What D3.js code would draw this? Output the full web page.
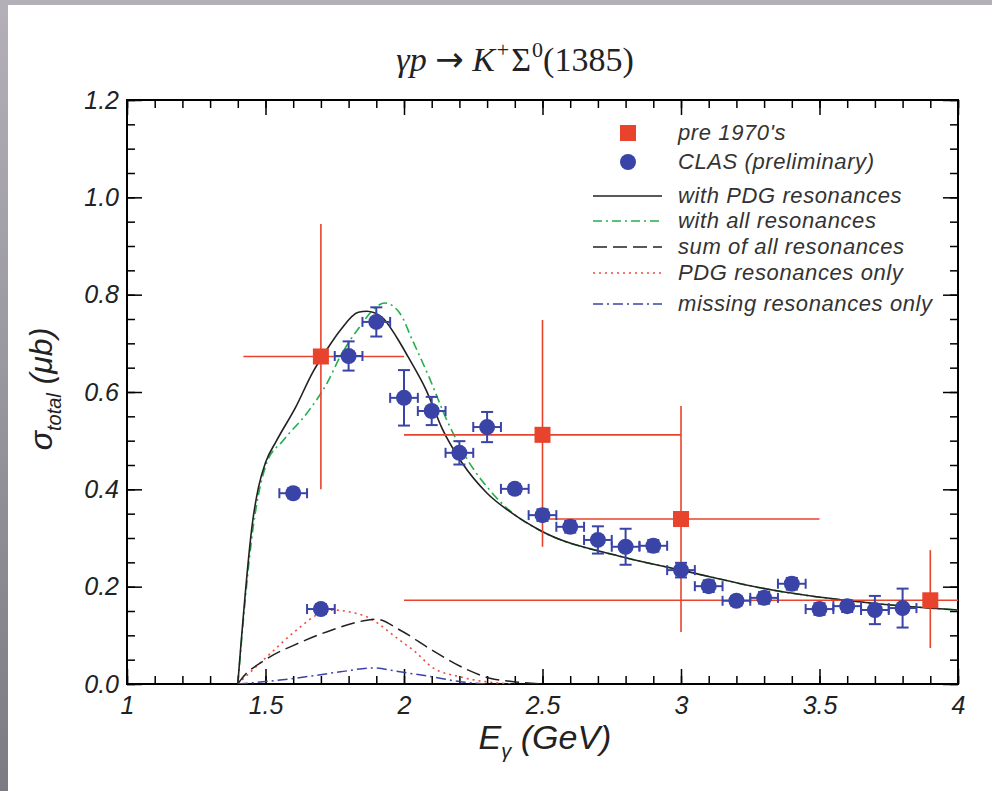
<!DOCTYPE html>
<html>
<head>
<meta charset="utf-8">
<script src="https://cdn.jsdelivr.net/npm/d3@7"></script>
<style>
  body { margin: 0; background: #fff; }
  svg { display: block; }
</style>
</head>
<body>
<svg id="chart"></svg>
<script>
// CLAS (preliminary) points
const clasE     = [1.6, 1.7, 1.8, 1.9, 2.0, 2.1, 2.2, 2.3, 2.4, 2.5, 2.6, 2.7, 2.8, 2.9, 3.0, 3.1, 3.2, 3.3, 3.4, 3.5, 3.6, 3.7, 3.8];
const clasSigma = [0.392, 0.154, 0.674, 0.744, 0.588, 0.561, 0.475, 0.528, 0.401, 0.347, 0.323, 0.296, 0.282, 0.284, 0.234, 0.201, 0.171, 0.177, 0.206, 0.154, 0.160, 0.152, 0.156];
const clasErr   = [0.010, 0.010, 0.030, 0.030, 0.057, 0.029, 0.024, 0.031, 0.010, 0.012, 0.012, 0.028, 0.037, 0.012, 0.015, 0.012, 0.010, 0.012, 0.012, 0.012, 0.012, 0.029, 0.040];
const clasHalfBin = 0.05;

// pre 1970's points
const preE      = [1.7, 2.5, 3.0, 3.9];
const preSigma  = [0.673, 0.512, 0.339, 0.172];
const preELo    = [1.42, 2.0, 2.5, 2.0];
const preEHi    = [2.0, 3.0, 3.5, 4.05];
const preSigLo  = [0.400, 0.282, 0.107, 0.074];
const preSigHi  = [0.945, 0.748, 0.571, 0.275];

// model curves
const pdgE      = [1.4, 1.455, 1.475, 1.50, 1.54, 1.61, 1.67, 1.72, 1.77, 1.835, 1.866, 1.92, 1.975, 2.015, 2.08, 2.14, 2.21, 2.30, 2.39, 2.49, 2.79, 3.0, 3.33, 3.69, 4.0];
const pdgSigma  = [0, 0.340, 0.405, 0.455, 0.500, 0.570, 0.640, 0.686, 0.727, 0.764, 0.766, 0.754, 0.711, 0.672, 0.604, 0.522, 0.454, 0.392, 0.351, 0.316, 0.261, 0.234, 0.193, 0.166, 0.152];

const allE      = [1.4, 1.455, 1.505, 1.563, 1.65, 1.722, 1.769, 1.84, 1.90, 1.93, 1.985, 2.03, 2.09, 2.155, 2.23, 2.31, 2.39, 2.49, 2.79, 3.0, 3.33, 3.69, 4.0];
const allSigma  = [0, 0.320, 0.455, 0.500, 0.557, 0.618, 0.672, 0.734, 0.775, 0.783, 0.762, 0.707, 0.631, 0.542, 0.460, 0.398, 0.352, 0.316, 0.261, 0.234, 0.193, 0.166, 0.152];

const sumE      = [1.4, 1.41, 1.5, 1.62, 1.74, 1.866, 1.90, 1.985, 2.10, 2.23, 2.31, 2.39, 2.5];
const sumSigma  = [0, 0.008, 0.050, 0.084, 0.111, 0.131, 0.133, 0.111, 0.070, 0.029, 0.012, 0.005, 0];

const pdgOnlyE     = [1.4, 1.505, 1.625, 1.685, 1.745, 1.805, 1.865, 1.985, 2.045, 2.10, 2.20, 2.29, 2.4];
const pdgOnlySigma = [0, 0.056, 0.117, 0.142, 0.152, 0.148, 0.138, 0.090, 0.064, 0.035, 0.015, 0.005, 0];

const missE     = [1.4, 1.5, 1.61, 1.77, 1.89, 1.985, 2.1, 2.2, 2.3];
const missSigma = [0, 0.005, 0.012, 0.025, 0.033, 0.025, 0.015, 0.005, 0];

// axis ticks
const xTicks      = [1, 1.5, 2, 2.5, 3, 3.5, 4];
const xTickLabels = ["1", "1.5", "2", "2.5", "3", "3.5", "4"];
const yTicks      = [0, 0.2, 0.4, 0.6, 0.8, 1.0, 1.2];
const yTickLabels = ["0.0", "0.2", "0.4", "0.6", "0.8", "1.0", "1.2"];

const legendLabels = ["pre 1970's", "CLAS (preliminary)", "with PDG resonances", "with all resonances",
                      "sum of all resonances", "PDG resonances only", "missing resonances only"];

const W = 992, H = 791;
const pLeft = 127, pRight = 958, pTop = 100, pBottom = 684;

const RED = "#e8432d", BLUE = "#3a44a6", GREEN = "#22b04c";
const sans = "'Liberation Sans', Arial, sans-serif";
const tickFont = `italic 25px ${sans}`;

const svg = d3.select("#chart").attr("width", W).attr("height", H);

// slide-like gray frame
const defs = svg.append("defs");
const grad = defs.append("linearGradient").attr("id", "bg").attr("x1", 0).attr("y1", 0).attr("x2", 0).attr("y2", 1);
grad.append("stop").attr("offset", "0%").attr("stop-color", "#b3b1b7");
grad.append("stop").attr("offset", "100%").attr("stop-color", "#7d7b82");
svg.append("rect").attr("width", W).attr("height", H).attr("fill", "url(#bg)");
svg.append("rect").attr("x", 8).attr("y", 5).attr("width", W - 8).attr("height", H - 5).attr("fill", "#fff");

defs.append("clipPath").attr("id", "plot")
  .append("rect").attr("x", pLeft).attr("y", pTop).attr("width", pRight - pLeft).attr("height", pBottom - pTop);

const x = d3.scaleLinear().domain([1, 4]).range([pLeft, pRight]);
const y = d3.scaleLinear().domain([0, 1.2]).range([pBottom, pTop]);

// axes: major + minor, ticks pointing inward
const xMinor = d3.range(10, 41).map(d => d / 10);
const yMinor = d3.range(0, 25).map(d => d * 0.05);

function styleAxis(g) {
  g.select(".domain").remove();
  g.selectAll("line").attr("stroke", "#000").attr("stroke-width", 1.5);
  g.selectAll("text").style("font", tickFont).attr("fill", "#222");
}

svg.append("g").attr("transform", `translate(0,${pBottom})`)
  .call(d3.axisBottom(x).tickValues(xMinor).tickSize(-8).tickFormat(""))
  .call(styleAxis);
svg.append("g").attr("transform", `translate(0,${pBottom})`)
  .call(d3.axisBottom(x).tickValues(xTicks).tickSize(-15).tickPadding(12)
    .tickFormat((d, i) => xTickLabels[i]))
  .call(styleAxis);
svg.append("g").attr("transform", `translate(0,${pTop})`)
  .call(d3.axisTop(x).tickValues(xMinor).tickSize(-8).tickFormat(""))
  .call(styleAxis);
svg.append("g").attr("transform", `translate(0,${pTop})`)
  .call(d3.axisTop(x).tickValues(xTicks).tickSize(-15).tickFormat(""))
  .call(styleAxis);

svg.append("g").attr("transform", `translate(${pLeft},0)`)
  .call(d3.axisLeft(y).tickValues(yMinor).tickSize(-8).tickFormat(""))
  .call(styleAxis);
svg.append("g").attr("transform", `translate(${pLeft},0)`)
  .call(d3.axisLeft(y).tickValues(yTicks).tickSize(-15).tickPadding(8)
    .tickFormat((d, i) => yTickLabels[i]))
  .call(styleAxis);
svg.append("g").attr("transform", `translate(${pRight},0)`)
  .call(d3.axisRight(y).tickValues(yMinor).tickSize(-8).tickFormat(""))
  .call(styleAxis);
svg.append("g").attr("transform", `translate(${pRight},0)`)
  .call(d3.axisRight(y).tickValues(yTicks).tickSize(-15).tickFormat(""))
  .call(styleAxis);

svg.append("rect")
  .attr("x", pLeft).attr("y", pTop).attr("width", pRight - pLeft).attr("height", pBottom - pTop)
  .attr("fill", "none").attr("stroke", "#000").attr("stroke-width", 2);

// curves
const line = d3.line().x(d => x(d[0])).y(d => y(d[1])).curve(d3.curveMonotoneX);
const curves = [
  { e: missE,    s: missSigma,    color: BLUE,   dash: "10 4 2 4", w: 1.5 },
  { e: pdgOnlyE, s: pdgOnlySigma, color: "#f04a3c", dash: "2 4",  w: 1.6 },
  { e: sumE,     s: sumSigma,     color: "#222", dash: "14 6",     w: 1.5 },
  { e: allE,     s: allSigma,     color: GREEN,  dash: "9 4 2 4",  w: 1.6 },
  { e: pdgE,     s: pdgSigma,     color: "#222", dash: null,       w: 1.6 }
];
const curveG = svg.append("g").attr("clip-path", "url(#plot)");
curveG.selectAll("path").data(curves).join("path")
  .attr("d", c => line(c.e.map((e, i) => [e, c.s[i]])))
  .attr("fill", "none")
  .attr("stroke", c => c.color)
  .attr("stroke-width", c => c.w)
  .attr("stroke-dasharray", c => c.dash);

// pre 1970's data
const pre = preE.map((e, i) => ({ e, s: preSigma[i], elo: preELo[i], ehi: preEHi[i], slo: preSigLo[i], shi: preSigHi[i] }));
const preG = svg.append("g").attr("clip-path", "url(#plot)");
preG.selectAll("line.h").data(pre).join("line").attr("class", "h")
  .attr("x1", d => x(d.elo)).attr("x2", d => x(d.ehi))
  .attr("y1", d => y(d.s)).attr("y2", d => y(d.s))
  .attr("stroke", RED).attr("stroke-width", 1.6);
preG.selectAll("line.v").data(pre).join("line").attr("class", "v")
  .attr("x1", d => x(d.e)).attr("x2", d => x(d.e))
  .attr("y1", d => y(d.slo)).attr("y2", d => y(d.shi))
  .attr("stroke", RED).attr("stroke-width", 1.6);
preG.selectAll("rect").data(pre).join("rect")
  .attr("x", d => x(d.e) - 8).attr("y", d => y(d.s) - 8)
  .attr("width", 16).attr("height", 16).attr("fill", RED);

// CLAS data
const clas = clasE.map((e, i) => ({ e, s: clasSigma[i], err: clasErr[i] }));
const clasG = svg.append("g").attr("stroke", BLUE).attr("stroke-width", 2);
const pt = clasG.selectAll("g").data(clas).join("g");
pt.append("line")
  .attr("x1", d => x(d.e - clasHalfBin)).attr("x2", d => x(d.e + clasHalfBin))
  .attr("y1", d => y(d.s)).attr("y2", d => y(d.s));
pt.append("line")
  .attr("x1", d => x(d.e - clasHalfBin)).attr("x2", d => x(d.e - clasHalfBin))
  .attr("y1", d => y(d.s) - 5).attr("y2", d => y(d.s) + 5);
pt.append("line")
  .attr("x1", d => x(d.e + clasHalfBin)).attr("x2", d => x(d.e + clasHalfBin))
  .attr("y1", d => y(d.s) - 5).attr("y2", d => y(d.s) + 5);
pt.append("line")
  .attr("x1", d => x(d.e)).attr("x2", d => x(d.e))
  .attr("y1", d => y(d.s - d.err)).attr("y2", d => y(d.s + d.err));
pt.append("line")
  .attr("x1", d => x(d.e) - 6).attr("x2", d => x(d.e) + 6)
  .attr("y1", d => y(d.s + d.err)).attr("y2", d => y(d.s + d.err));
pt.append("line")
  .attr("x1", d => x(d.e) - 6).attr("x2", d => x(d.e) + 6)
  .attr("y1", d => y(d.s - d.err)).attr("y2", d => y(d.s - d.err));
pt.append("circle")
  .attr("cx", d => x(d.e)).attr("cy", d => y(d.s)).attr("r", 8)
  .attr("fill", BLUE).attr("stroke", "none");

// legend
const legendRowY = [133, 162, 196, 221, 247, 273, 304];
const lg = svg.append("g");
lg.append("rect").attr("x", 620).attr("y", legendRowY[0] - 8).attr("width", 16).attr("height", 16).attr("fill", RED);
lg.append("circle").attr("cx", 628).attr("cy", legendRowY[1]).attr("r", 8).attr("fill", BLUE);
const legendCurves = [curves[4], curves[3], curves[2], curves[1], curves[0]];
legendCurves.forEach((c, i) => {
  lg.append("line")
    .attr("x1", 593).attr("x2", 662)
    .attr("y1", legendRowY[i + 2]).attr("y2", legendRowY[i + 2])
    .attr("stroke", c.color).attr("stroke-width", c.w)
    .attr("stroke-dasharray", c.dash);
});
lg.selectAll("text").data(legendLabels).join("text")
  .attr("x", 678).attr("y", (d, i) => legendRowY[i] + 7)
  .style("font", `italic 22px ${sans}`)
  .style("letter-spacing", "0.6px")
  .attr("fill", "#333")
  .text(d => d);

// title
const title = svg.append("text").attr("x", 515).attr("y", 71)
  .attr("text-anchor", "middle")
  .style("font", "34px 'Liberation Serif', 'DejaVu Serif', serif").attr("fill", "#222");
title.append("tspan").style("font-style", "italic").text("γp ");
title.append("tspan").style("font-family", "'DejaVu Sans', sans-serif").text("→");
title.append("tspan").style("font-style", "italic").text(" K");
title.append("tspan").attr("dy", -14).attr("dx", 2).style("font-size", "22px").text("+");
title.append("tspan").attr("dy", 14).attr("dx", 2).text("Σ");
title.append("tspan").attr("dy", -14).attr("dx", 1).style("font-size", "22px").text("0");
title.append("tspan").attr("dy", 14).text("(1385)");

// axis titles
const xl = svg.append("text").attr("x", 545).attr("y", 749).attr("text-anchor", "middle")
  .style("font", `italic 34px ${sans}`).attr("fill", "#222");
xl.append("tspan").text("E");
xl.append("tspan").attr("dy", 9).style("font-size", "20px").text("γ");
xl.append("tspan").attr("dy", -9).text("  (GeV)");

const yl = svg.append("text").attr("transform", "translate(52,389) rotate(-90)").attr("text-anchor", "middle")
  .style("font", `italic 32px ${sans}`).attr("fill", "#222");
yl.append("tspan").text("σ");
yl.append("tspan").attr("dy", 9).style("font-size", "20px").text("total");
yl.append("tspan").attr("dy", -9).text("  (μb)");
</script>
</body>
</html>
